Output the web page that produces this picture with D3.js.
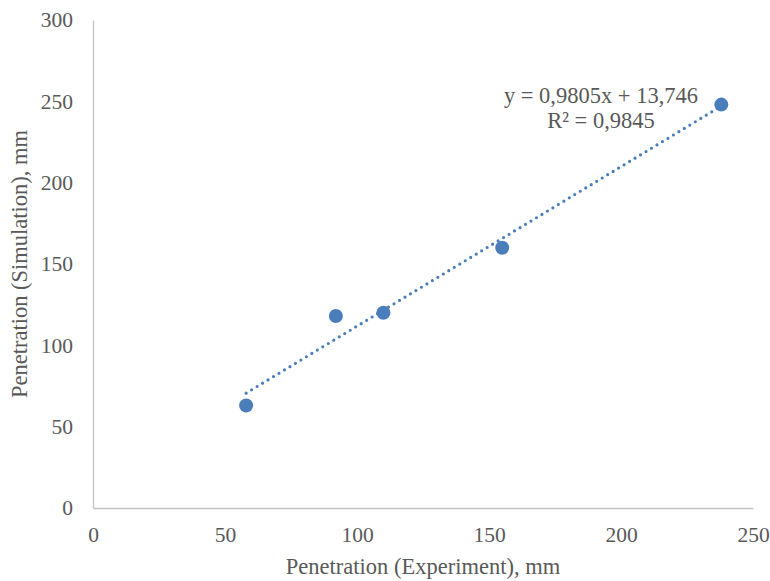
<!DOCTYPE html>
<html>
<head>
<meta charset="utf-8">
<script src="https://cdn.jsdelivr.net/npm/d3@7"></script>
<style>
  body { margin: 0; background: #fff; }
  text { font-family: "Liberation Serif", "Times New Roman", serif; fill: #595959; }
</style>
</head>
<body>
<script>
// data
const experiment = [58, 92, 110, 155, 238];
const simulation = [63, 118, 120, 160, 248];
const xTicks = [0, 50, 100, 150, 200, 250];
const yTicks = [0, 50, 100, 150, 200, 250, 300];
const slope = 0.9805;
const intercept = 13.746;
const eqLines = ['y = 0,9805x + 13,746', 'R\u00b2 = 0,9845'];

const width = 770, height = 581;
const margin = { left: 93, right: 17, top: 20, bottom: 73 };
const color = '#4A7EBB';

const svg = d3.select('body').append('svg')
  .attr('width', width)
  .attr('height', height);

const x = d3.scaleLinear().domain([0, 250]).range([margin.left, width - margin.right]);
const y = d3.scaleLinear().domain([0, 300]).range([height - margin.bottom, margin.top]);

// axes, no tick marks
const xAxis = svg.append('g')
  .attr('transform', 'translate(0,' + y(0) + ')')
  .call(d3.axisBottom(x).tickValues(xTicks).tickSize(0).tickPadding(19));
const yAxis = svg.append('g')
  .attr('transform', 'translate(' + x(0) + ',0)')
  .call(d3.axisLeft(y).tickValues(yTicks).tickSize(0).tickPadding(20));

[xAxis, yAxis].forEach(a => {
  a.select('.domain').attr('stroke', '#c4c4c4').attr('stroke-width', 1.3);
  a.selectAll('text')
    .style('font-family', '"Liberation Serif", serif')
    .style('font-size', '21.5px')
    .attr('fill', '#595959');
});

// trendline
const xmin = d3.min(experiment), xmax = d3.max(experiment);
svg.append('line')
  .attr('x1', x(xmin)).attr('y1', y(slope * xmin + intercept))
  .attr('x2', x(xmax)).attr('y2', y(slope * xmax + intercept))
  .attr('stroke', color)
  .attr('stroke-width', 3.2)
  .attr('stroke-linecap', 'round')
  .attr('stroke-dasharray', '0 6.4');

// points
svg.selectAll('.pt')
  .data(experiment.map((d, i) => [d, simulation[i]]))
  .enter()
  .append('circle')
  .attr('class', 'pt')
  .attr('cx', d => x(d[0]))
  .attr('cy', d => y(d[1]))
  .attr('r', 7)
  .attr('fill', color);

// equation label
svg.selectAll('.eq')
  .data(eqLines)
  .enter()
  .append('text')
  .attr('class', 'eq')
  .attr('x', 601)
  .attr('y', (d, i) => 103 + i * 25)
  .attr('text-anchor', 'middle')
  .style('font-size', '22.5px')
  .text(d => d);

// axis titles
svg.append('text')
  .attr('x', (x(0) + x(250)) / 2)
  .attr('y', 574)
  .attr('text-anchor', 'middle')
  .style('font-size', '22.5px')
  .text('Penetration (Experiment), mm');

svg.append('text')
  .attr('transform', 'translate(27,' + (y(0) + y(300)) / 2 + ') rotate(-90)')
  .attr('text-anchor', 'middle')
  .style('font-size', '22.5px')
  .text('Penetration (Simulation), mm');
</script>
</body>
</html>
